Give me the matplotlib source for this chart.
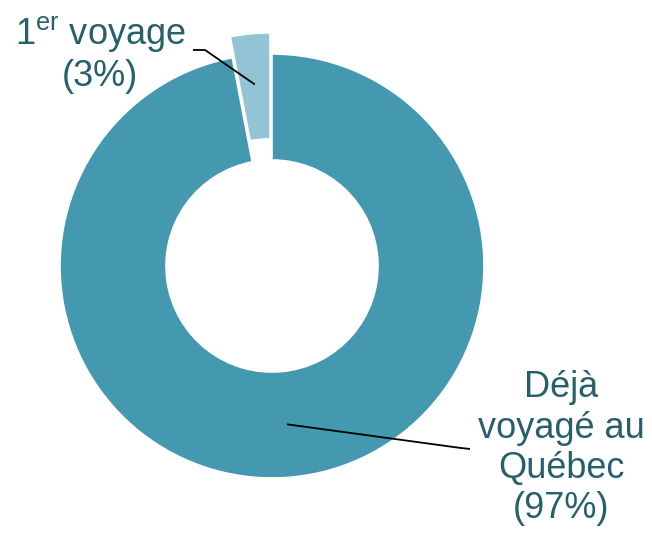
import numpy as np
import matplotlib
matplotlib.use("Agg")
import matplotlib.pyplot as plt

plt.rcParams['font.family'] = ['Liberation Sans', 'DejaVu Sans']
plt.rcParams['mathtext.fontset'] = 'custom'
plt.rcParams['mathtext.rm'] = 'Liberation Sans'
plt.rcParams['mathtext.it'] = 'Liberation Sans'

categories = ["1$^{\\mathrm{er}}$ voyage", "Déjà\nvoyagé au\nQuébec"]
values = [3, 97]
colors = ["#93c4d6", "#4499b0"]
explode = [0.1, 0.0]
text_color = "#285f6c"

fig = plt.figure(figsize=(6.52, 5.33), dpi=100)
ax = fig.add_axes([0, 0, 1, 1])

wedges, _ = ax.pie(values, colors=colors, startangle=90, counterclock=True,
                   explode=explode, radius=1.0,
                   wedgeprops=dict(width=0.5, edgecolor='white', linewidth=1.2))
ax.set_aspect('auto')
ax.set_xlim(-272/212, (652-272)/212)
ax.set_ylim(-(533-266)/212, 266/212)
ax.axis('off')

total = sum(values)
pct = [f"({round(v*100/total)}%)" for v in values]

layouts = [
    dict(r=0.76, elbow=(-0.316, 1.019), end=(-0.373, 1.019), text=(-0.81, 1.0)),
    dict(r=0.75, elbow=(0.887, -0.858), end=(0.934, -0.863), text=(1.363, -0.86)),
]
for w, cat, p, lay, ex in zip(wedges, categories, pct, layouts, explode):
    mid = np.deg2rad((w.theta1 + w.theta2) / 2)
    ax_x = (lay['r'] + ex) * np.cos(mid)
    ax_y = (lay['r'] + ex) * np.sin(mid)
    xs = [ax_x, lay['elbow'][0], lay['end'][0]]
    ys = [ax_y, lay['elbow'][1], lay['end'][1]]
    ax.plot(xs, ys, color='black', lw=1.3, solid_capstyle='butt')
    ax.text(lay['text'][0], lay['text'][1], f"{cat}\n{p}", ha='center', va='center',
            fontsize=26, color=text_color, linespacing=1.2)

fig.savefig("out.png", dpi=100)
